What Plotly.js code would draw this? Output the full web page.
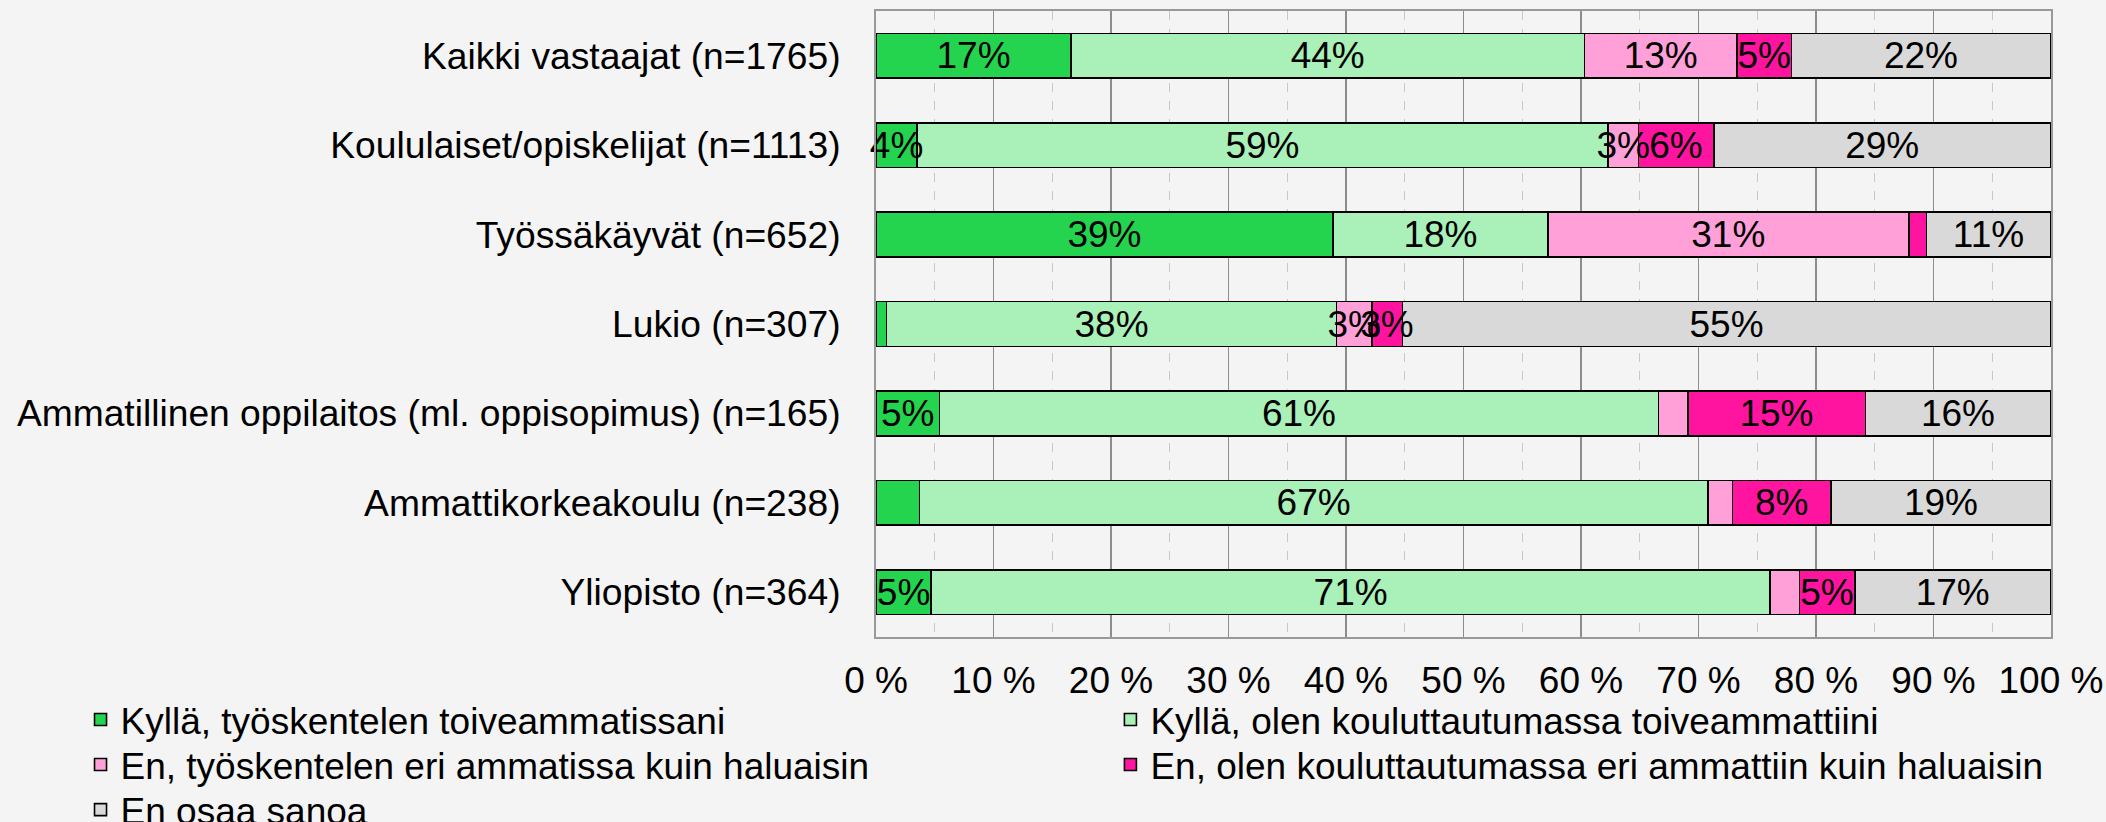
<!DOCTYPE html>
<html>
<head>
<meta charset="utf-8">
<script src="https://cdn.plot.ly/plotly-3.0.1.min.js"></script>
<style>
  html, body { margin: 0; padding: 0; background: #f4f4f4; }
  #chart { width: 2106px; height: 822px; }
</style>
</head>
<body>
<div id="chart"></div>
<script>
// Categories (top to bottom)
const categories = [
  "Kaikki vastaajat (n=1765)",
  "Koululaiset/opiskelijat (n=1113)",
  "Työssäkäyvät (n=652)",
  "Lukio (n=307)",
  "Ammatillinen oppilaitos (ml. oppisopimus) (n=165)",
  "Ammattikorkeakoulu (n=238)",
  "Yliopisto (n=364)"
];

// Series names
const seriesNames = [
  "Kyllä, työskentelen toiveammatissani",
  "Kyllä, olen kouluttautumassa toiveammattiini",
  "En, työskentelen eri ammatissa kuin haluaisin",
  "En, olen kouluttautumassa eri ammattiin kuin haluaisin",
  "En osaa sanoa"
];

// Values (%)
const kyllaTyo      = [16.6, 3.5, 38.9, 0.9, 5.4, 3.7, 4.7];
const kyllaKoulutus = [43.7, 58.8, 18.3, 38.3, 61.2, 67.1, 71.4];
const enTyo         = [13.0, 2.6, 30.7, 3.0, 2.5, 2.1, 2.5];
const enKoulutus    = [4.6, 6.4, 1.5, 2.6, 15.1, 8.4, 4.7];
const enOsaa        = [22.1, 28.7, 10.6, 55.2, 15.8, 18.7, 16.7];

// Data labels as shown on the chart
const lblKyllaTyo      = ["17%", "4%", "39%", "", "5%", "", "5%"];
const lblKyllaKoulutus = ["44%", "59%", "18%", "38%", "61%", "67%", "71%"];
const lblEnTyo         = ["13%", "3%", "31%", "3%", "", "", ""];
const lblEnKoulutus    = ["5%", "6%", "", "3%", "15%", "8%", "5%"];
const lblEnOsaa        = ["22%", "29%", "11%", "55%", "16%", "19%", "17%"];

const colors = ["#24d44e", "#a9f0b9", "#ffa0d8", "#ff14a0", "#d9d9d9"];

const values = [kyllaTyo, kyllaKoulutus, enTyo, enKoulutus, enOsaa];
const labels = [lblKyllaTyo, lblKyllaKoulutus, lblEnTyo, lblEnKoulutus, lblEnOsaa];
const legendIds = ["legend", "legend2", "legend3", "legend4", "legend5"];

const FONT = "Liberation Sans, Arial, sans-serif";

// Coloured bars (with legend entries)
const barTraces = values.map((v, i) => ({
  type: "bar",
  orientation: "h",
  name: seriesNames[i],
  y: categories,
  x: v,
  marker: { color: colors[i], line: { color: "#000", width: 1.6 } },
  legend: legendIds[i],
  hoverinfo: "x+y+name"
}));

// Label layer: same stacked values on an overlaid subplot so all labels sit on top of all bars
const labelTraces = values.map((v, i) => ({
  type: "bar",
  orientation: "h",
  name: seriesNames[i],
  y: categories,
  x: v,
  xaxis: "x2",
  yaxis: "y2",
  text: labels[i],
  textposition: "inside",
  insidetextanchor: "middle",
  textangle: 0,
  constraintext: "none",
  cliponaxis: false,
  textfont: { family: FONT, size: 37, color: "#000" },
  marker: { color: "rgba(0,0,0,0)", line: { width: 0 } },
  showlegend: false,
  hoverinfo: "skip"
}));

function legendAt(x, y) {
  return {
    x: x, y: y, xanchor: "left", yanchor: "middle",
    bgcolor: "rgba(0,0,0,0)", borderwidth: 0,
    font: { family: FONT, size: 37, color: "#000" }
  };
}

const col1 = -0.677, col2 = 0.1995;
const row1 = -0.1326, row2 = -0.2045, row3 = -0.2764;

const layout = {
  width: 2106,
  height: 822,
  paper_bgcolor: "#f4f4f4",
  plot_bgcolor: "#f4f4f4",
  margin: { l: 876, r: 55, t: 11, b: 185, autoexpand: false },
  barmode: "stack",
  bargap: 0.5,
  font: { family: FONT, size: 37, color: "#000" },
  xaxis: {
    range: [0, 100],
    dtick: 10,
    tick0: 0,
    ticksuffix: " %",
    showgrid: true,
    gridcolor: "#8c8c8c",
    gridwidth: 1.3,
    minor: { dtick: 5, showgrid: true, gridcolor: "#c8c8c8", griddash: "dash", gridwidth: 1 },
    showline: true,
    mirror: true,
    linecolor: "#999999",
    linewidth: 2,
    zeroline: false,
    ticks: "",
    ticklabelstandoff: 10,
    tickfont: { family: FONT, size: 37, color: "#000" },
    fixedrange: true
  },
  yaxis: {
    type: "category",
    autorange: "reversed",
    showgrid: false,
    showline: true,
    mirror: true,
    linecolor: "#999999",
    linewidth: 2,
    ticks: "",
    ticklabelstandoff: 26,
    tickfont: { family: FONT, size: 37.2, color: "#000" },
    fixedrange: true
  },
  xaxis2: {
    overlaying: "x",
    range: [0, 100.02],
    visible: false,
    showgrid: false,
    zeroline: false,
    fixedrange: true
  },
  yaxis2: {
    overlaying: "y",
    type: "category",
    categoryarray: categories,
    autorange: "reversed",
    visible: false,
    showgrid: false,
    zeroline: false,
    fixedrange: true
  },
  showlegend: true,
  legend: legendAt(col1, row1),
  legend2: legendAt(col2, row1),
  legend3: legendAt(col1, row2),
  legend4: legendAt(col2, row2),
  legend5: legendAt(col1, row3)
};

Plotly.newPlot("chart", barTraces.concat(labelTraces), layout, { displayModeBar: false, staticPlot: true });
</script>
</body>
</html>
